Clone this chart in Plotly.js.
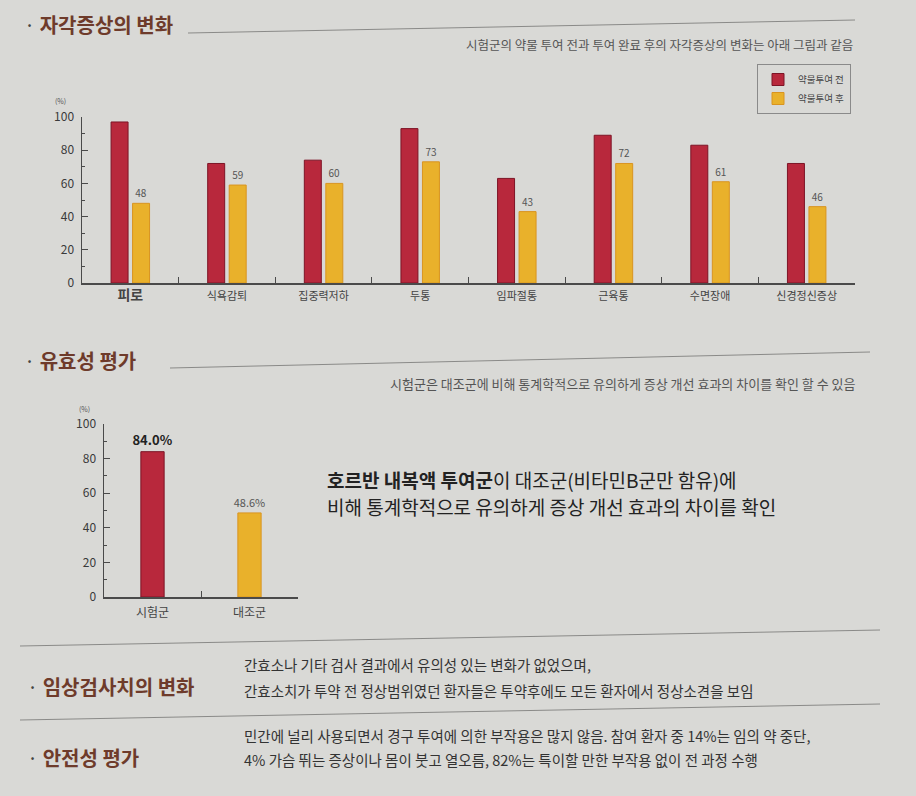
<!DOCTYPE html>
<html>
<head>
<meta charset="utf-8">
<script src="https://cdn.plot.ly/plotly-3.0.1.min.js"></script>
<style>
  html, body { margin: 0; padding: 0; background: #d9d9d6; }
  #chart { width: 916px; height: 796px; }
</style>
</head>
<body>
<div id="chart"></div>
<script>
// ---- data ----
const symptomCats = ['피로', '식욕감퇴', '집중력저하', '두통', '임파절통', '근육통', '수면장애', '신경정신증상'];
const beforeVals = [97, 72, 74, 93, 63, 89, 83, 72];
const afterVals = [48, 59, 60, 73, 43, 72, 61, 46];
const seriesNames = ['약물투여 전', '약물투여 후'];
const groupCats = ['시험군', '대조군'];
const effVals = [84.0, 48.6];
const yTicks1 = [0, 20, 40, 60, 80, 100];

// ---- helpers ----
const W = 916, H = 796;
const px = x => x / W;
const py = y => 1 - y / H;
const FONT = '"Noto Sans CJK KR", "Noto Sans", sans-serif';
const RED = '#b8283c', RED_LINE = '#7d1426';
const YEL = '#e9b12b', YEL_LINE = '#d99420';
const AXIS = '#4a4a4a';

const symptomTickText = symptomCats.map((c, i) =>
  i === 0 ? '<b><span style="font-size:14px">' + c + '</span></b>' : c);

const traces = [
  {
    type: 'bar', name: seriesNames[0], x: symptomCats, y: beforeVals,
    xaxis: 'x', yaxis: 'y',
    marker: { color: RED, line: { color: RED_LINE, width: 1 } },
    hoverinfo: 'skip'
  },
  {
    type: 'bar', name: seriesNames[1], x: symptomCats, y: afterVals,
    xaxis: 'x', yaxis: 'y',
    text: afterVals.map(v => String(v)), textposition: 'outside', cliponaxis: false,
    constraintext: 'none',
    textfont: { family: FONT, size: 10, color: '#555' },
    marker: { color: YEL, line: { color: YEL_LINE, width: 1 } },
    hoverinfo: 'skip'
  },
  {
    type: 'bar', x: groupCats, y: effVals, width: 0.24,
    xaxis: 'x2', yaxis: 'y2', showlegend: false,
    text: effVals.map((v, i) => i === 0 ? '<b>' + v.toFixed(1) + '%</b>' : v.toFixed(1) + '%'),
    textposition: 'outside', cliponaxis: false, constraintext: 'none',
    textfont: { family: FONT, size: [13, 11], color: ['#222', '#555'] },
    marker: { color: [RED, YEL], line: { color: [RED_LINE, YEL_LINE], width: 1 } },
    hoverinfo: 'skip'
  }
];

const yAxisCommon = {
  range: [0, 100], tickvals: yTicks1, showgrid: false, zeroline: false,
  showline: true, linecolor: AXIS, linewidth: 1.5,
  ticks: 'inside', ticklen: 6, tickcolor: AXIS, tickwidth: 1,
  minor: { dtick: 10, ticks: 'inside', ticklen: 3, tickcolor: AXIS, showgrid: false },
  tickfont: { family: FONT, size: 12, color: '#3a3a3a' }, ticklabelstandoff: 4,
  fixedrange: true
};
const xAxisCommon = {
  type: 'category', showgrid: false, zeroline: false,
  showline: true, linecolor: AXIS, linewidth: 1.5,
  ticks: 'inside', tickson: 'boundaries', ticklen: 6, tickcolor: AXIS,
  fixedrange: true
};

function ann(x, y, text, size, opts) {
  return Object.assign({
    xref: 'paper', yref: 'paper', x: px(x), y: py(y), text: text, showarrow: false,
    xanchor: 'left', yanchor: 'middle',
    font: { family: FONT, size: size, color: '#333' }
  }, opts || {});
}
function line(x0, y0, x1, y1, color, w) {
  return { type: 'line', xref: 'paper', yref: 'paper', x0: px(x0), y0: py(y0), x1: px(x1), y1: py(y1),
    line: { color: color || '#8a8a88', width: w || 1 } };
}

const BROWN = '#6e3b2b';
const title = t => '<span style="color:#444">·</span> <b>' + t + '</b>';

const layout = {
  width: W, height: H,
  margin: { l: 0, r: 0, t: 0, b: 0 },
  paper_bgcolor: '#d9d9d6', plot_bgcolor: 'rgba(0,0,0,0)',
  font: { family: FONT, color: '#333' },
  barmode: 'group', bargap: 0.555, bargroupgap: 0.21,
  xaxis: Object.assign({}, xAxisCommon, {
    domain: [px(82), px(855)], anchor: 'y', range: [-0.5, 7.5],
    tickvals: symptomCats, ticktext: symptomTickText,
    tickfont: { family: FONT, size: 11, color: '#444' }, ticklabelstandoff: 2
  }),
  yaxis: Object.assign({}, yAxisCommon, { domain: [py(283), py(117)], anchor: 'x' }),
  xaxis2: Object.assign({}, xAxisCommon, {
    domain: [px(104), px(298)], anchor: 'y2', range: [-0.5, 1.5],
    tickfont: { family: FONT, size: 12, color: '#444' }, ticklabelstandoff: 4
  }),
  yaxis2: Object.assign({}, yAxisCommon, { domain: [py(597), py(424)], anchor: 'x2' }),
  legend: {
    x: px(757), y: py(64), xanchor: 'left', yanchor: 'top',
    bgcolor: 'rgba(0,0,0,0)', bordercolor: '#8a8a8a', borderwidth: 1,
    font: { family: FONT, size: 9.5, color: '#444' }, tracegroupgap: 0, itemwidth: 30
  },
  shapes: [
    line(188, 33, 855, 20),
    line(170, 368, 870, 352),
    line(20, 646, 880, 630),
    line(20, 720, 880, 704)
  ],
  annotations: [
    ann(22, 24, title('자각증상의 변화'), 20, { font: { family: FONT, size: 20, color: BROWN } }),
    ann(855, 44, '시험군의 약물 투여 전과 투여 완료 후의 자각증상의 변화는 아래 그림과 같음', 12.5,
        { xanchor: 'right', font: { family: FONT, size: 12.5, color: '#555' } }),
    ann(60, 101, '(%)', 7, { xanchor: 'center', font: { family: FONT, size: 7, color: '#555' } }),

    ann(22, 361, title('유효성 평가'), 20, { font: { family: FONT, size: 20, color: BROWN } }),
    ann(858, 383, '시험군은 대조군에 비해 통계학적으로 유의하게 증상 개선 효과의 차이를 확인 할 수 있음', 13,
        { xanchor: 'right', font: { family: FONT, size: 13, color: '#555' } }),
    ann(84, 409, '(%)', 7, { xanchor: 'center', font: { family: FONT, size: 7, color: '#555' } }),
    ann(325, 479, '<b>호르반 내복액 투여군</b>이 대조군(비타민B군만 함유)에', 19,
        { font: { family: FONT, size: 19, color: '#222' } }),
    ann(325, 506, '비해 통계학적으로 유의하게 증상 개선 효과의 차이를 확인', 19,
        { font: { family: FONT, size: 19, color: '#222' } }),

    ann(25, 686, title('임상검사치의 변화'), 20, { font: { family: FONT, size: 20, color: BROWN } }),
    ann(242, 664, '간효소나 기타 검사 결과에서 유의성 있는 변화가 없었으며,', 14.5,
        { font: { family: FONT, size: 14.5, color: '#333' } }),
    ann(242, 690, '간효소치가 투약 전 정상범위였던 환자들은 투약후에도 모든 환자에서 정상소견을 보임', 14.5,
        { font: { family: FONT, size: 14.5, color: '#333' } }),

    ann(25, 757, title('안전성 평가'), 20, { font: { family: FONT, size: 20, color: BROWN } }),
    ann(242, 735, '민간에 널리 사용되면서 경구 투여에 의한 부작용은 많지 않음. 참여 환자 중 14%는 임의 약 중단,', 14.5,
        { font: { family: FONT, size: 14.5, color: '#333' } }),
    ann(242, 759, '4% 가슴 뛰는 증상이나 몸이 붓고 열오름, 82%는 특이할 만한 부작용 없이 전 과정 수행', 14.5,
        { font: { family: FONT, size: 14.5, color: '#333' } })
  ]
};

Plotly.newPlot('chart', traces, layout, { displayModeBar: false, staticPlot: true });
</script>
</body>
</html>
